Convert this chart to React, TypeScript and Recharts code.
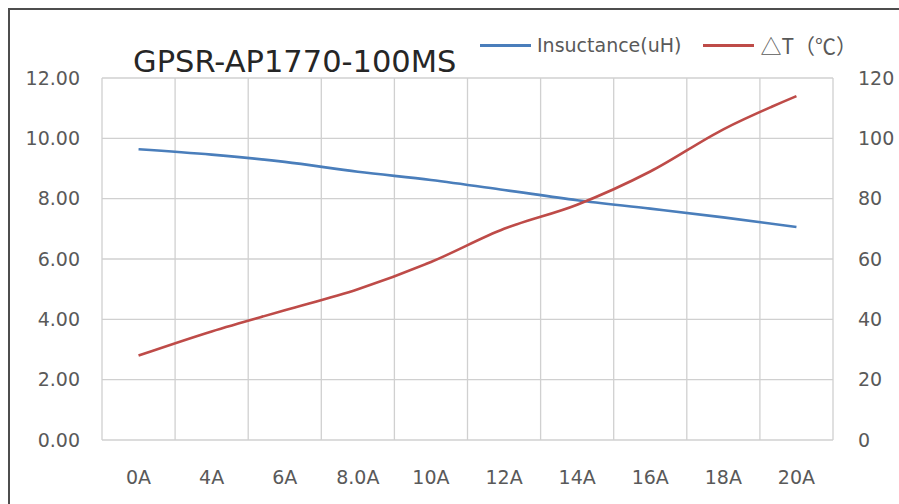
import { LineChart, Line, XAxis, YAxis, CartesianGrid } from 'recharts';

const categories = ['0A', '4A', '6A', '8.0A', '10A', '12A', '14A', '16A', '18A', '20A'];
const inductance = [9.64, 9.46, 9.22, 8.89, 8.62, 8.29, 7.95, 7.67, 7.38, 7.06];
const deltaT = [28, 36, 43, 50, 59, 70, 78, 89, 103, 114];
const leftTicks = [0, 2, 4, 6, 8, 10, 12];
const rightTicks = [0, 20, 40, 60, 80, 100, 120];

const data = categories.map((name, i) => ({
  name,
  inductance: inductance[i],
  deltaT: deltaT[i],
}));

const FONT = '"DejaVu Sans", sans-serif';
const TICK = { fill: '#595959', fontSize: 19, fontFamily: FONT };

const legendItems = [
  { label: 'Insuctance(uH)', color: '#4a7ebb', font: FONT, size: 19 },
  { label: '△T（℃）', color: '#be4b48', font: '"Noto Sans CJK SC", sans-serif', size: 21 },
];

export default function App() {
  // fixed so the frame can run past the window edge without scrollbars
  return (
    <div
      style={{
        position: 'fixed',
        left: 8,
        top: 8,
        width: 895,
        height: 500,
        border: '2px solid #4d4d4d',
        boxSizing: 'border-box',
        background: '#fff',
      }}
    >
      <div
        style={{
          position: 'absolute',
          left: 123,
          top: 34,
          fontFamily: FONT,
          fontSize: 30.5,
          color: '#262626',
          whiteSpace: 'nowrap',
        }}
      >
        GPSR-AP1770-100MS
      </div>
      <div style={{ position: 'absolute', left: 470, top: 20, display: 'flex', alignItems: 'center' }}>
        {legendItems.map((it) => (
          <div key={it.label} style={{ display: 'flex', alignItems: 'center', marginRight: 22 }}>
            <div style={{ width: 51, height: 3, background: it.color, marginRight: 6 }} />
            <span style={{ fontFamily: it.font, fontSize: it.size, color: '#595959', whiteSpace: 'nowrap' }}>
              {it.label}
            </span>
          </div>
        ))}
      </div>
      <LineChart width={887} height={494} data={data} margin={{ top: 68, right: 0, bottom: 24, left: 0 }}>
        <CartesianGrid
          yAxisId="left"
          stroke="#d0d0d0"
          strokeWidth={1.3}
          verticalCoordinatesGenerator={({ offset }: any) =>
            categories
              .map((_, i) => offset.left + (i * offset.width) / categories.length)
              .concat(offset.left + offset.width)
          }
        />
        <XAxis
          dataKey="name"
          scale="band"
          axisLine={false}
          tickLine={false}
          tickSize={0}
          tickMargin={31}
          height={40}
          tick={TICK}
          interval={0}
        />
        <YAxis
          yAxisId="left"
          domain={[0, 12]}
          ticks={leftTicks}
          tickFormatter={(v: number) => v.toFixed(2)}
          axisLine={false}
          tickLine={false}
          tickSize={0}
          tickMargin={22}
          width={92}
          tick={TICK}
        />
        <YAxis
          yAxisId="right"
          orientation="right"
          domain={[0, 120]}
          ticks={rightTicks}
          axisLine={false}
          tickLine={false}
          tickSize={0}
          tickMargin={25}
          width={64}
          tick={TICK}
        />
        <Line
          yAxisId="left"
          type="monotone"
          dataKey="inductance"
          name="Insuctance(uH)"
          stroke="#4a7ebb"
          strokeWidth={2.6}
          dot={false}
          isAnimationActive={false}
        />
        <Line
          yAxisId="right"
          type="monotone"
          dataKey="deltaT"
          name="△T（℃）"
          stroke="#be4b48"
          strokeWidth={2.6}
          dot={false}
          isAnimationActive={false}
        />
      </LineChart>
    </div>
  );
}
